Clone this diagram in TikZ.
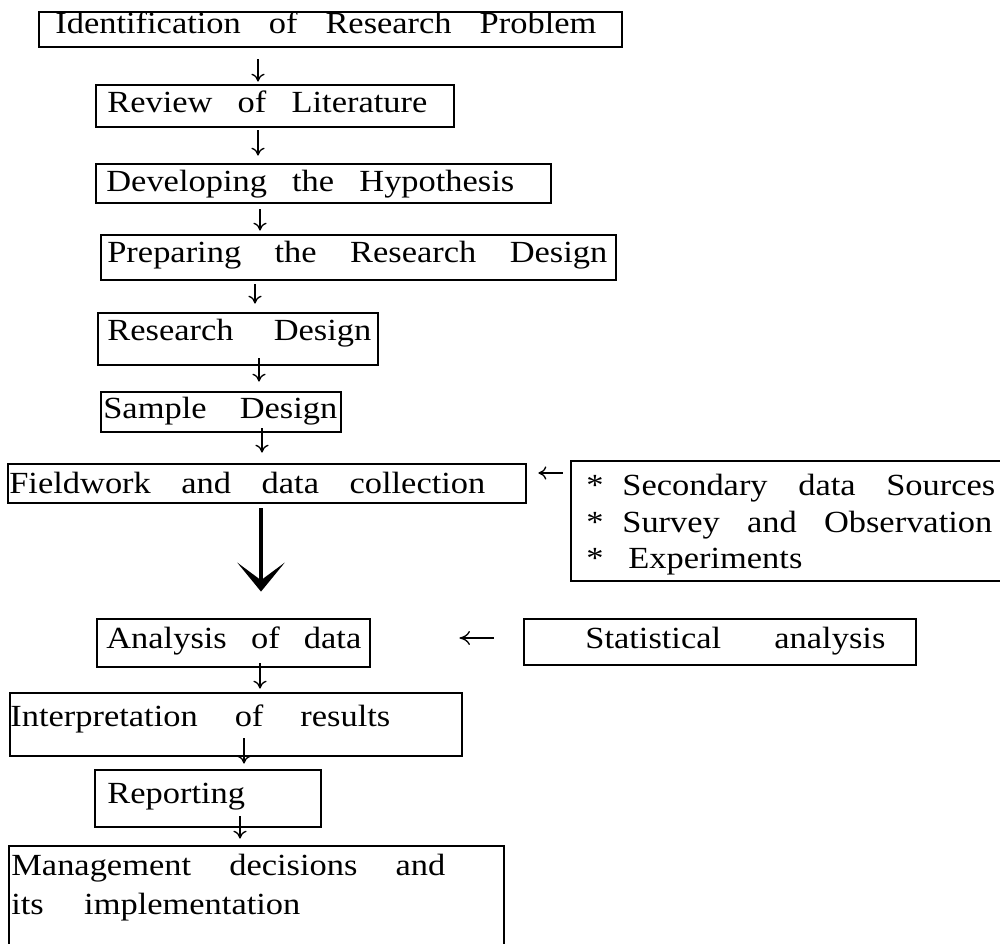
\documentclass[tikz,border=0pt]{standalone}
\usepackage{fontspec}
\setmainfont{Liberation Serif}[FakeStretch=1.12]
\usetikzlibrary{arrows.meta}
\newlength\px
\setlength\px{0.02cm}
\newcommand\mkbox[5]{\node[box, minimum width={(#4-#2)*\px}, minimum height={(#5-#3)*\px}] (#1) at ({(#2+#4)/2},{(#3+#5)/2}) {};}
\newcommand\mktxt[5]{\node[txt] (#1) at (#2,#3) {\makebox[#4\px][s]{#5}};}
\begin{document}
\begin{tikzpicture}[x=0.02cm,y=-0.02cm,
  box/.style={draw, line width=1.6pt, inner sep=0pt, rectangle},
  txt/.style={anchor=base west, inner sep=0pt, font=\fontsize{17.5}{21}\selectfont},
  arr/.style={line width=0.75pt, -{Computer Modern Rightarrow[length=4.5pt,width=7.5pt]}},
  larr/.style={line width=0.75pt, -{Computer Modern Rightarrow[length=6pt,width=8pt]}},
  bigarr/.style={line width=2.5pt, -{Stealth[length=16.5pt,width=27pt,inset=10pt]}}]
\useasboundingbox (0,0) rectangle (1000,943);
% boxes
\mkbox{b1}{39}{12}{622}{47}
\mkbox{b2}{96}{85}{454}{127}
\mkbox{b3}{96}{164}{551}{203}
\mkbox{b4}{101}{235}{616}{280}
\mkbox{b5}{98}{313}{378}{365}
\mkbox{b6}{101}{392}{341}{432}
\mkbox{b7}{8}{464}{526}{503}
\mkbox{b8}{571}{461}{1010}{581}
\mkbox{b9}{97}{619}{370}{667}
\mkbox{b10}{524}{619}{916}{665}
\mkbox{b11}{10}{693}{462}{756}
\mkbox{b12}{95}{770}{321}{827}
\mkbox{b13}{9}{846}{504}{960}
% texts
\mktxt{t1}{55}{33}{541}{Identification of Research Problem}
\mktxt{t2}{107}{112}{320}{Review of Literature}
\mktxt{t3}{106}{191}{408}{Developing the Hypothesis}
\mktxt{t4}{107}{262}{500}{Preparing the Research Design}
\mktxt{t5}{107}{340}{264}{Research Design}
\mktxt{t6}{103}{418}{234}{Sample Design}
\mktxt{t7}{9}{493}{476}{Fieldwork and data collection}
\node[txt] (s1) at (586,495) {*};
\node[txt] (s2) at (586,532) {*};
\node[txt] (s3) at (586,568) {*};
\mktxt{t8a}{622}{495}{373}{Secondary data Sources}
\mktxt{t8b}{622}{532}{370}{Survey and Observation}
\node[txt] (t8c) at (628,568) {Experiments};
\mktxt{t9}{106}{648}{255}{Analysis of data}
\mktxt{t10}{585}{648}{300}{Statistical analysis}
\mktxt{t11}{10}{726}{380}{Interpretation of results}
\node[txt] (t12) at (107,803) {Reporting};
\mktxt{t13a}{11}{875}{434}{Management decisions and}
\mktxt{t13b}{11}{914}{289}{its implementation}
% coordinates for connector columns
\coordinate (x1) at (258,0);
\coordinate (x3) at (260,0);
\coordinate (x4) at (255,0);
\coordinate (x5) at (259,0);
\coordinate (x6) at (262,0);
\coordinate (xb) at (261,0);
\coordinate (x7) at (260,0);
\coordinate (x8) at (244,0);
\coordinate (x9) at (240,0);
\coordinate (yl) at (0,473);
\coordinate (ys) at (0,638);
% connectors
\draw[arr, shorten <=11\px, shorten >=2\px] (b1.south -| x1) -- (b2.north -| x1);
\draw[arr, shorten <=2\px, shorten >=7\px] (b2.south -| x1) -- (b3.north -| x1);
\draw[arr, shorten <=5\px, shorten >=3\px] (b3.south -| x3) -- (b4.north -| x3);
\draw[arr, shorten <=3\px, shorten >=8\px] (b4.south -| x4) -- (b5.north -| x4);
\draw[arr, shorten <=-8\px, shorten >=9\px] (b5.south -| x5) -- (b6.north -| x5);
\draw[arr, shorten <=-5\px, shorten >=10\px] (b6.south -| x6) -- (b7.north -| x6);
\draw[bigarr, shorten <=4\px, shorten >=26\px] (b7.south -| xb) -- (b9.north -| xb);
\draw[arr, shorten <=7\px, shorten >=11\px] (b8.west |- yl) -- (b7.east |- yl);
\draw[larr, shorten <=29\px, shorten >=88\px] (b10.west |- ys) -- (b9.east |- ys);
\draw[arr, shorten <=-5\px, shorten >=3\px] (b9.south -| x7) -- (b11.north -| x7);
\draw[arr, shorten <=-19\px, shorten >=5\px] (b11.south -| x8) -- (b12.north -| x8);
\draw[arr, shorten <=-12\px, shorten >=6\px] (b12.south -| x9) -- (b13.north -| x9);
\end{tikzpicture}
\end{document}
